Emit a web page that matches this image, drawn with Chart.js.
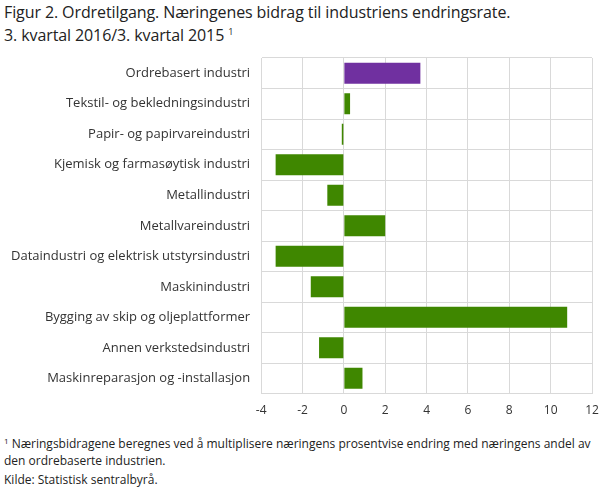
<!DOCTYPE html>
<html>
<head>
<meta charset="utf-8">
<script src="https://cdn.jsdelivr.net/npm/chart.js@4.4.0/dist/chart.umd.min.js"></script>
<style>
  html, body { margin: 0; padding: 0; background: #fff; }
  body { width: 609px; height: 488px; position: relative; overflow: hidden; font-family: "Open Sans", sans-serif; color: #222; }
  #title { position: absolute; left: 4px; top: 2px; font-size: 16px; line-height: 20px; letter-spacing: -0.1px; }
  #title sup { font-size: 9px; vertical-align: 6px; }
  #wrap { position: absolute; left: 0; top: 0; width: 609px; height: 428px; }
  .note { position: absolute; left: 4px; font-size: 12px; line-height: 17px; }
  .note sup { font-size: 8px; vertical-align: 4px; }
</style>
</head>
<body>
<div id="title">Figur 2. Ordretilgang. Næringenes bidrag til industriens endringsrate.<br>3. kvartal 2016/3. kvartal 2015 <sup>1</sup></div>
<div id="wrap"><canvas id="chart"></canvas></div>
<div class="note" style="top:432px"><sup>1</sup> Næringsbidragene beregnes ved å multiplisere næringens prosentvise endring med næringens andel av<br>den ordrebaserte industrien.</div>
<div class="note" style="top:471px">Kilde: Statistisk sentralbyrå.</div>
<script>
// næringer og bidrag (prosentpoeng)
var kategorier = [
  'Ordrebasert industri',
  'Tekstil- og bekledningsindustri',
  'Papir- og papirvareindustri',
  'Kjemisk og farmasøytisk industri',
  'Metallindustri',
  'Metallvareindustri',
  'Dataindustri og elektrisk utstyrsindustri',
  'Maskinindustri',
  'Bygging av skip og oljeplattformer',
  'Annen verkstedsindustri',
  'Maskinreparasjon og -installasjon'
];
var bidrag = [3.7, 0.3, -0.1, -3.3, -0.8, 2.0, -3.3, -1.6, 10.8, -1.2, 0.9];
var xTicks = [-4, -2, 0, 2, 4, 6, 8, 10, 12];

var farger = bidrag.map(function (v, i) { return i === 0 ? '#7030a0' : '#3f8700'; });

const config = {
  type: 'bar',
  data: {
    labels: kategorier,
    datasets: [{
      label: 'Bidrag',
      data: bidrag,
      backgroundColor: farger,
      borderWidth: 0,
      barPercentage: 0.69,
      categoryPercentage: 1.0
    }]
  },
  options: {
    indexAxis: 'y',
    responsive: true,
    maintainAspectRatio: false,
    animation: false,
    layout: { padding: { top: 58, right: 17, left: 0, bottom: 0 } },
    plugins: {
      legend: { display: false },
      tooltip: { enabled: false }
    },
    scales: {
      x: {
        min: -4,
        max: 12,
        afterBuildTicks: function (axis) {
          axis.ticks = xTicks.map(function (v) { return { value: v }; });
        },
        grid: { color: '#d9d9d9', lineWidth: 1, drawTicks: false },
        border: { color: '#d9d9d9' },
        ticks: { color: '#333', font: { family: 'Open Sans', size: 12 }, padding: 10 }
      },
      y: {
        grid: { color: '#d9d9d9', lineWidth: 1, offset: true, drawTicks: false },
        border: { color: '#d9d9d9' },
        ticks: { color: '#333', font: { family: 'Open Sans', size: 13 }, padding: 11 }
      }
    }
  }
};

var chart = new Chart(document.getElementById('chart'), config);
</script>
</body>
</html>
